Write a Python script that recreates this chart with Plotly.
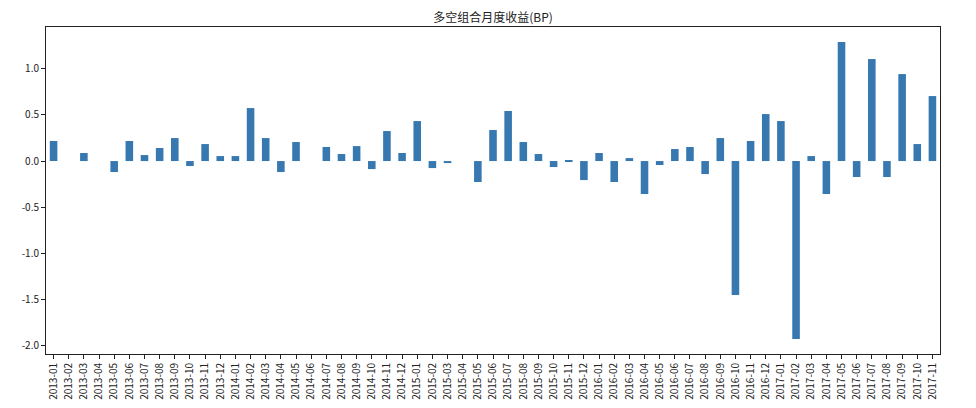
import plotly.graph_objects as go

months = [f"{y}-{m:02d}" for y in range(2013, 2018) for m in range(1, 13)][:59]

returns = [
    0.217, 0.0, 0.087, 0.0, -0.119, 0.217, 0.065, 0.141, 0.249, -0.054, 0.184, 0.054,
    0.054, 0.574, 0.249, -0.119, 0.206, 0.0, 0.152, 0.076, 0.162, -0.087, 0.325, 0.087,
    0.433, -0.076, -0.022, 0.0, -0.227, 0.336, 0.542, 0.206, 0.076, -0.065, 0.011, -0.206,
    0.087, -0.227, 0.032, -0.357, -0.043, 0.130, 0.152, -0.141, 0.249, -1.451, 0.217, 0.509,
    0.433, -1.928, 0.054, -0.357, 1.289, -0.173, 1.105, -0.173, 0.942, 0.184, 0.704,
]

ytick_vals = [1.0, 0.5, 0.0, -0.5, -1.0, -1.5, -2.0]
ytick_text = ["1.0", "0.5", "0.0", "-0.5", "-1.0", "-1.5", "-2.0"]

FONT = "Noto Sans CJK SC, Noto Sans, sans-serif"

# page body has an 8px default margin, so the figure is sized/offset to compensate
W, H = 960, 392

fig = go.Figure(
    go.Bar(
        x=list(range(len(months))),
        y=returns,
        marker=dict(color="#3778b0", line=dict(width=0)),
        width=0.5,
    )
)

fig.update_layout(
    width=W,
    height=H,
    margin=dict(l=38, r=28, t=19, b=46, autoexpand=False),
    paper_bgcolor="white",
    plot_bgcolor="white",
    showlegend=False,
    font=dict(family=FONT, size=10, color="#222"),
    title=dict(
        text="多空组合月度收益(BP)",
        x=0.5,
        xref="paper",
        y=1 - 10 / H,
        yref="container",
        yanchor="middle",
        font=dict(family=FONT, size=12, color="#222"),
    ),
)

fig.update_xaxes(
    automargin=False,
    range=[-0.5, len(months) - 0.5],
    tickmode="array",
    tickvals=list(range(len(months))),
    ticktext=months,
    tickangle=-90,
    ticks="outside",
    ticklen=4,
    tickcolor="#222",
    showgrid=False,
    zeroline=False,
    showline=True,
    linecolor="#222",
    linewidth=1,
    mirror=True,
    tickfont=dict(size=10),
)

fig.update_yaxes(
    automargin=False,
    range=[-2.09, 1.452],
    tickmode="array",
    tickvals=ytick_vals,
    ticktext=ytick_text,
    ticks="outside",
    ticklen=4,
    tickcolor="#222",
    showgrid=False,
    zeroline=False,
    showline=True,
    linecolor="#222",
    linewidth=1,
    mirror=True,
    tickfont=dict(size=10),
)

fig.write_html("out.html")
